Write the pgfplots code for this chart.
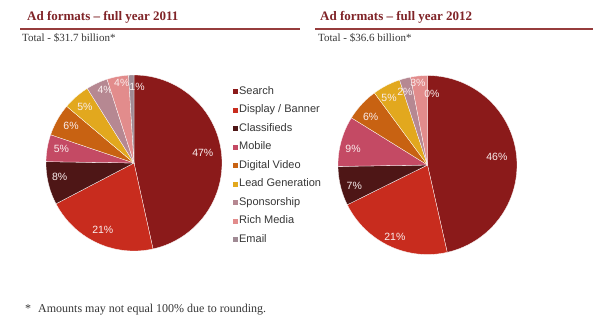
\documentclass[border=0pt]{standalone}
\usepackage{pgfplots}
\pgfplotsset{compat=1.18}
\usepackage{fontspec}
\setmainfont{Liberation Serif}
\newfontfamily\arialf{Liberation Sans}
\definecolor{cSearch}{RGB}{139,26,26}
\definecolor{cDisplay}{RGB}{200,44,30}
\definecolor{cClass}{RGB}{78,22,22}
\definecolor{cMobile}{RGB}{196,74,100}
\definecolor{cVideo}{RGB}{200,98,18}
\definecolor{cLead}{RGB}{226,168,30}
\definecolor{cSpons}{RGB}{182,136,146}
\definecolor{cRich}{RGB}{226,140,140}
\definecolor{cEmail}{RGB}{160,138,148}
\definecolor{titlered}{RGB}{128,36,40}
\definecolor{rulered}{RGB}{150,60,60}
\definecolor{txtgray}{RGB}{55,55,55}
\definecolor{lblwhite}{RGB}{250,238,238}

% #1 = total, #2 = list value/colour/label radius/label angle shift
\newcommand\drawpie[2]{%
  \xdef\cum{0}%
  \foreach \v/\c/\f/\da in {#2} {%
    \pgfmathsetmacro\aS{90-(\cum/#1)*360}%
    \pgfmathsetmacro\aE{90-((\cum+\v)/#1)*360}%
    \pgfmathsetmacro\aM{(\aS+\aE)/2+\da}%
    \pgfmathsetmacro\lx{\f*cos(\aM)}%
    \pgfmathsetmacro\ly{\f*sin(\aM)}%
    \ifdim\v pt>0pt
      \edef\tmp{\noexpand\addplot[fill=\c,draw=white,line width=0.3pt,domain=\aE:\aS,samples=60] ({cos(x)},{sin(x)}) -- (axis cs:0,0) -- cycle;}%
      \tmp
    \fi
    \edef\tmp{\noexpand\node[lbl] at (axis cs:\lx,\ly) {\v\noexpand\%};}%
    \tmp
    \pgfmathsetmacro\newcum{\cum+\v}%
    \xdef\cum{\newcum}%
  }%
}

\pgfplotsset{
  pieaxis/.style={
    scale only axis, hide axis, clip=false,
    xmin=-1, xmax=1, ymin=-1, ymax=1,
    anchor=south west,
  },
}
\tikzset{lbl/.style={font=\arialf\fontsize{10.5}{12}\selectfont, text=lblwhite, inner sep=0pt}}

\begin{document}
\begin{tikzpicture}[x=1pt,y=1pt]
\path[fill=white] (0pt,0pt) rectangle (600pt,330pt);

% titles
\node[anchor=base west, inner sep=0pt, font=\fontsize{13}{15}\selectfont\bfseries, text=titlered] at (27pt,309pt) {Ad formats -- full year 2011};
\draw[rulered, line width=1.3pt] (20pt,301pt) -- (300pt,301pt);
\node[anchor=base west, inner sep=0pt, font=\fontsize{11}{13}\selectfont, text=txtgray] at (22pt,288pt) {Total - \$31.7 billion*};

\node[anchor=base west, inner sep=0pt, font=\fontsize{13}{15}\selectfont\bfseries, text=titlered] at (320pt,309pt) {Ad formats -- full year 2012};
\draw[rulered, line width=1.3pt] (315pt,301pt) -- (593pt,301pt);
\node[anchor=base west, inner sep=0pt, font=\fontsize{11}{13}\selectfont, text=txtgray] at (318pt,288pt) {Total - \$36.6 billion*};

\node[anchor=base west, inner sep=0pt, font=\fontsize{12}{14}\selectfont, text=txtgray] at (25pt,18pt) {*};
\node[anchor=base west, inner sep=0pt, font=\fontsize{12}{14}\selectfont, text=txtgray] at (38pt,18pt) {Amounts may not equal 100\% due to rounding.};

\begin{axis}[pieaxis, at={(46pt,79pt)}, width=176pt, height=176pt,
  legend entries={Search, Display / Banner, Classifieds, Mobile, Digital Video, Lead Generation, Sponsorship, Rich Media, Email},
  legend image code/.code={\fill[#1] (0pt,-2.8pt) rectangle (5.6pt,2.8pt);},
  legend style={at={(1.040,0.955)}, anchor=north west, draw=none, fill=none,
    font=\arialf\fontsize{11}{13}\selectfont, text=txtgray,
    row sep=6pt, column sep=0pt,
    nodes={inner sep=1pt, anchor=west, text height=8pt, text depth=2.5pt}},
  legend cell align=left,
]
\drawpie{101}{47/cSearch/0.79/2, 21/cDisplay/0.84/0, 8/cClass/0.86/-2.7, 5/cMobile/0.84/-1, 6/cVideo/0.83/-1, 5/cLead/0.85/0, 4/cSpons/0.89/-3.3, 4/cRich/0.92/-2, 1/cEmail/0.86/-4.1}
\end{axis}

\begin{axis}[pieaxis, at={(338pt,75.5pt)}, width=179pt, height=179pt]
\drawpie{99}{46/cSearch/0.78/0, 21/cDisplay/0.88/1, 7/cClass/0.85/2.2, 9/cMobile/0.85/3.5, 6/cVideo/0.83/2.6, 5/cLead/0.86/2.7, 2/cSpons/0.86/2.5, 3/cRich/0.92/1.2, 0/cEmail/0.80/-3.5}
\end{axis}
\end{tikzpicture}
\end{document}
